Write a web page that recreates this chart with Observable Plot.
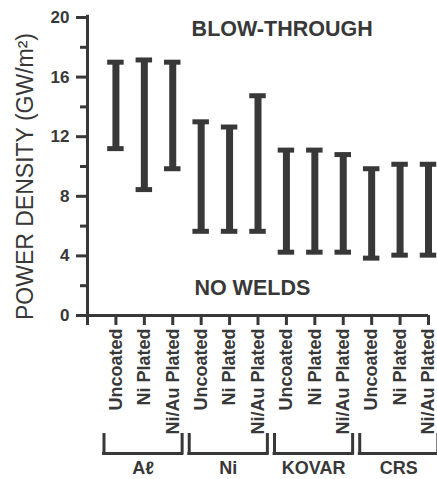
<!DOCTYPE html>
<html>
<head>
<meta charset="utf-8">
<script src="https://cdn.jsdelivr.net/npm/d3@7"></script>
<script src="https://cdn.jsdelivr.net/npm/@observablehq/plot@0.6"></script>
<style>
  html, body { margin: 0; padding: 0; background: #ffffff; }
</style>
</head>
<body>
<div id="chart"></div>
<script>
// ---- data ----
const categories = [
  "Uncoated", "Ni Plated", "Ni/Au Plated",
  "Uncoated", "Ni Plated", "Ni/Au Plated",
  "Uncoated", "Ni Plated", "Ni/Au Plated",
  "Uncoated", "Ni Plated", "Ni/Au Plated"
];
const groups = ["A\u2113", "Ni", "KOVAR", "CRS"];
const highs = [17.0, 17.15, 17.0, 13.0, 12.65, 14.75, 11.1, 11.1, 10.8, 9.85, 10.15, 10.15];
const lows  = [11.2, 8.45, 9.85, 5.65, 5.65, 5.65, 4.25, 4.25, 4.25, 3.85, 4.05, 4.05];
const yTicks = [0, 4, 8, 12, 16, 20];
const yMinorTicks = [2, 6, 10, 14, 18];
const yLabel = "POWER DENSITY (GW/m\u00B2)";
const annotations = [
  {text: "BLOW-THROUGH", x: 6.85, y: 19.2},
  {text: "NO WELDS", x: 5.8, y: 1.85}
];

// ---- derived tables ----
const rows = categories.map((c, i) => ({
  pos: i + 1, cat: c, group: groups[Math.floor(i / 3)], lo: lows[i], hi: highs[i]
}));
const groupRows = groups.map((g, gi) => ({
  name: g, start: gi * 3 + 1, end: gi * 3 + 3
}));

const ink = "#383838";
const W = 437, H = 479, mL = 87, mR = 9, mT = 17, mB = 164;
const ppu = (H - mB - mT) / 20;          // pixels per y unit
const px = p => -p / ppu;                 // pixel offset below the x axis -> y units

const chart = Plot.plot({
  width: W, height: H,
  marginLeft: mL, marginRight: mR, marginTop: mT, marginBottom: mB,
  x: {domain: [0, 12]},
  y: {domain: [0, 20]},
  style: {fontFamily: "'Liberation Sans', Arial, sans-serif", color: ink, background: "#ffffff", overflow: "visible"},
  marks: [
    // axis lines
    Plot.ruleX([0], {y1: 0, y2: 20.15, stroke: ink, strokeWidth: 3}),
    Plot.ruleY([0], {x1: 0, x2: 12, stroke: ink, strokeWidth: 3}),
    // y axis major & minor ticks
    Plot.axisY({ticks: yTicks, tickSize: 11, tickPadding: 7, strokeWidth: 3,
      fontSize: 17, fontWeight: "bold", label: null}),
    Plot.axisY({ticks: yMinorTicks, tickSize: 7, strokeWidth: 3,
      tickFormat: () => "", label: null}),
    // x axis ticks
    Plot.axisX({ticks: d3.range(0, 13), tickSize: 10, strokeWidth: 3,
      tickFormat: () => "", label: null}),
    // category labels
    Plot.text(rows, {x: "pos", y: 0, dy: 13, text: "cat", rotate: -90,
      textAnchor: "end", fontSize: 18, fontWeight: "bold", fill: ink}),
    // error bars
    Plot.ruleX(rows, {x: "pos", y1: "lo", y2: "hi", stroke: ink, strokeWidth: 7}),
    Plot.ruleY(rows, {y: "hi", x1: d => d.pos - 0.29, x2: d => d.pos + 0.29, stroke: ink, strokeWidth: 5}),
    Plot.ruleY(rows, {y: "lo", x1: d => d.pos - 0.29, x2: d => d.pos + 0.29, stroke: ink, strokeWidth: 5}),
    // group brackets
    Plot.ruleX(groupRows, {x: d => d.start - 0.42, y1: px(118), y2: px(139.5), stroke: ink, strokeWidth: 3}),
    Plot.ruleX(groupRows, {x: d => d.end + 0.33, y1: px(118), y2: px(139.5), stroke: ink, strokeWidth: 3}),
    Plot.ruleY(groupRows, {y: px(138), x1: d => d.start - 0.42 - 0.05, x2: d => d.end + 0.33 + 0.05, stroke: ink, strokeWidth: 3}),
    Plot.text(groupRows, {x: d => (d.start - 0.42 + d.end + 0.33) / 2, y: 0, dy: 153, text: "name",
      fontSize: 18, fontWeight: "bold", fill: ink}),
    // annotations
    Plot.text(annotations, {x: "x", y: "y", text: "text", fontSize: 21.5, fontWeight: "bold", fill: ink}),
    // y label
    Plot.text([yLabel], {frameAnchor: "left", textAnchor: "middle", dx: -62, dy: 10, rotate: -90, text: d => d,
      fontSize: 23, fill: ink})
  ]
});
document.getElementById("chart").appendChild(chart);
</script>
</body>
</html>
